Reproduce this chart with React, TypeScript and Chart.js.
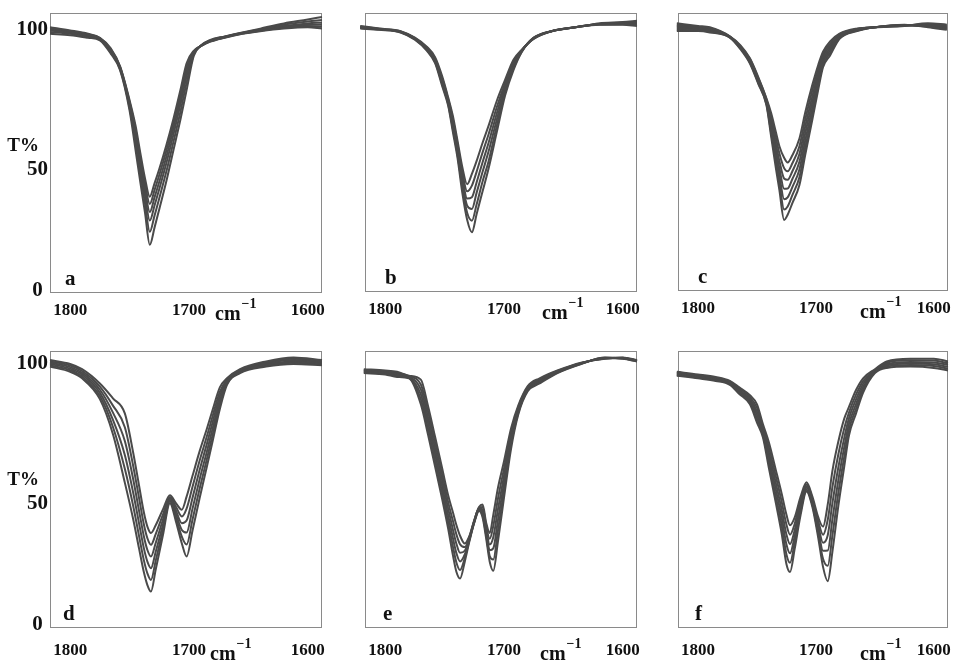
import React, { useEffect, useRef } from "react";
import { Chart, registerables } from "chart.js";

Chart.register(...registerables);

// ---------- tick labels ----------
const xTickValues = [1800, 1700, 1600];
const yTickValues = [0, 50, 100];

// ---------- panel a ----------
const waveA = [1817, 1800, 1785, 1775, 1766, 1758, 1750, 1745, 1741, 1737, 1733, 1729, 1725, 1719, 1713, 1707, 1702, 1696, 1690, 1682, 1670, 1655, 1640, 1620, 1600, 1588];
const a1 = [101, 99.8, 98.5, 97, 93, 86, 73, 63.3, 52.9, 43, 36, 41.1, 46.6, 55.8, 66, 77.3, 87.2, 92, 93.8, 95.5, 97, 98.5, 99.5, 100.5, 101, 100.5];
const a2 = [100.6, 99.5, 98.3, 96.9, 92.7, 85.8, 72.4, 61.9, 51.2, 41, 33.2, 38.5, 44.3, 53.7, 64.2, 75.6, 85.7, 91.7, 93.8, 95.6, 97.1, 98.6, 99.7, 100.8, 101.5, 101.2];
const a3 = [100.2, 99.2, 98, 96.7, 92.4, 85.5, 71.7, 60.3, 49.3, 38.8, 30.1, 35.7, 41.7, 51.4, 62.2, 73.7, 83.9, 91.4, 93.9, 95.7, 97.2, 98.7, 99.8, 101.1, 102, 102];
const a4 = [99.8, 98.9, 97.8, 96.5, 92, 85.3, 71, 58.7, 47.3, 36.4, 26.8, 32.6, 38.9, 48.9, 60, 71.7, 82.1, 91, 93.9, 95.9, 97.3, 98.8, 100, 101.5, 102.5, 102.8];
const a5 = [99.2, 98.5, 97.4, 96.3, 91.5, 84.9, 70.1, 56.5, 44.7, 33.4, 22.5, 28.7, 35.4, 45.7, 57.2, 69, 79.7, 90.5, 93.9, 96, 97.4, 98.9, 100.2, 102, 103.2, 103.8];
const a6 = [98.5, 98, 97, 96, 91, 84.5, 69, 54, 41.7, 29.8, 17.5, 24.1, 31.2, 42, 54, 66, 76.9, 90, 94, 96.2, 97.5, 99, 100.5, 102.5, 104, 105];

// ---------- panel b ----------
const waveB = [1821, 1805, 1787, 1775, 1765, 1758, 1752, 1747, 1743, 1739, 1735, 1731, 1727, 1723, 1718, 1713, 1706, 1699, 1692, 1685, 1675, 1660, 1640, 1620, 1600, 1588];
const b1 = [101.5, 100.5, 99.5, 97, 93.5, 89.5, 82.1, 74, 66.8, 57, 47, 40.5, 44.5, 49.5, 56.5, 63, 72.7, 80.8, 88.5, 92.4, 96.5, 99.5, 101, 102, 102, 101.5];
const b2 = [101.3, 100.4, 99.4, 96.8, 93.2, 89, 81.3, 73.4, 65.6, 55.7, 45, 37.8, 40, 45.4, 52.8, 59.7, 70.3, 79.6, 87.7, 92.2, 96.6, 99.5, 101, 102.1, 102.2, 101.9];
const b3 = [101.1, 100.3, 99.3, 96.7, 92.9, 88.6, 80.6, 72.7, 64.3, 54.3, 43, 35, 35.5, 41.3, 49, 56.4, 67.9, 78.4, 86.9, 92, 96.7, 99.5, 101, 102.2, 102.4, 102.3];
const b4 = [100.9, 100.2, 99.2, 96.5, 92.6, 88.1, 79.8, 72.1, 63.1, 53, 41, 32.3, 31, 37.3, 45.3, 53.1, 65.5, 77.2, 86.1, 91.9, 96.8, 99.5, 101, 102.3, 102.6, 102.7];
const b5 = [100.7, 100.1, 99.1, 96.4, 92.3, 87.7, 79.1, 71.4, 61.8, 51.6, 39, 29.5, 26.5, 32.8, 41.6, 49.3, 63.1, 76, 85.3, 91.7, 96.9, 99.5, 101, 102.4, 102.8, 103.1];
const b6 = [100.5, 100, 99, 96.2, 92, 87.2, 78.3, 70.8, 60.6, 50.3, 37, 26.8, 22, 29.1, 37.8, 46.5, 60.7, 74.8, 84.5, 91.5, 97, 99.5, 101, 102.5, 103, 103.5];

// ---------- panel c ----------
const waveC = [1818, 1800, 1790, 1773, 1764, 1756, 1749, 1742, 1738, 1734, 1731, 1727, 1724, 1720, 1714, 1709, 1703, 1698, 1694, 1688, 1680, 1665, 1650, 1625, 1605, 1589];
const c1 = [102.5, 101.5, 101, 97.5, 94, 89, 81.8, 73.5, 67.8, 60.5, 55, 50.5, 48.7, 51.5, 58, 68.2, 78.8, 86.5, 91.5, 95.5, 98.5, 100.5, 101, 101.5, 102.5, 102];
const c2 = [102, 101.2, 100.7, 97.4, 93.7, 88.7, 81.4, 73.1, 66.3, 58.2, 52.2, 46.5, 45.3, 48.4, 55, 65.5, 76.6, 84.9, 90.5, 94.6, 98.2, 100.3, 101, 101.6, 102.2, 101.7];
const c3 = [101.5, 100.8, 100.3, 97.3, 93.5, 88.3, 80.9, 72.6, 64.8, 55.8, 49.3, 42.5, 42, 45.3, 52, 62.8, 74.3, 83.3, 89.5, 93.7, 97.8, 100.2, 101, 101.7, 102, 101.3];
const c4 = [101, 100.5, 100, 97.3, 93.3, 88, 80.5, 72.2, 63.3, 53.5, 46.5, 38.5, 38.6, 42.3, 49, 60.1, 72.1, 81.8, 88.5, 92.8, 97.5, 100, 101, 101.8, 101.8, 101];
const c5 = [100.5, 100.2, 99.7, 97.2, 93, 87.7, 80.1, 71.8, 61.7, 51.2, 43.7, 34.5, 35.2, 39.2, 46, 57.3, 69.9, 80.2, 87.5, 91.9, 97.2, 99.8, 101, 101.8, 101.5, 100.7];
const c6 = [100, 99.8, 99.3, 97.1, 92.8, 87.3, 79.6, 71.3, 60.2, 48.8, 40.8, 30.5, 31.7, 36.1, 43, 54.6, 67.6, 78.6, 86.5, 91, 96.8, 99.7, 101, 101.9, 101.2, 100.3];
const c7 = [99.5, 99.5, 99, 97, 92.5, 87, 79.2, 70.9, 58.7, 46.5, 38, 26.5, 28.5, 33, 40, 51.9, 65.4, 77, 85.5, 90.1, 96.5, 99.5, 101, 102, 101, 100];

// ---------- panel d ----------
const waveD = [1817, 1800, 1790, 1775, 1764, 1754, 1747, 1742, 1738, 1735, 1732, 1728, 1722, 1716, 1711, 1706, 1702, 1697, 1691, 1685, 1680, 1674, 1668, 1657, 1635, 1612, 1588];
const d1 = [101.5, 100, 98, 92.5, 86.8, 81, 66, 53.2, 43, 37.5, 35, 38, 44, 49.5, 46.5, 44, 49, 57, 66.5, 75, 82.5, 91, 94.5, 98, 101, 102.5, 101.5];
const d2 = [101, 99.4, 97.3, 91.3, 84, 75.7, 60.9, 48.4, 38.4, 33, 30.5, 34.6, 42, 48.9, 45.1, 41.4, 44.4, 52.8, 62.9, 72.1, 80.1, 89.3, 94, 97.7, 100.6, 102, 101.1];
const d3 = [100.5, 98.8, 96.6, 90.1, 81.3, 70.4, 55.8, 43.5, 33.8, 28.5, 26, 31.2, 40, 48.3, 43.7, 38.8, 39.8, 48.6, 59.3, 69.2, 77.7, 87.7, 93.5, 97.4, 100.2, 101.5, 100.7];
const d4 = [100, 98.2, 95.9, 88.9, 78.5, 65, 50.6, 38.7, 29.2, 24, 21.5, 27.8, 38, 47.7, 42.3, 36.2, 35.2, 44.4, 55.7, 66.2, 75.3, 86, 93, 97.1, 99.8, 101, 100.3];
const d5 = [99.5, 97.6, 95.2, 87.7, 75.8, 59.7, 45.5, 33.8, 24.6, 19.5, 17, 24.4, 36, 47.1, 40.9, 33.6, 30.6, 40.2, 52.1, 63.3, 72.9, 84.4, 92.5, 96.8, 99.4, 100.5, 99.9];
const d6 = [99, 97, 94.5, 86.5, 73, 54.4, 40.4, 29, 20, 15, 12.5, 21, 34, 46.5, 39.5, 31, 26, 36, 48.5, 60.4, 70.5, 82.7, 92, 96.5, 99, 100, 99.5];

// ---------- panel e ----------
const waveE = [1818, 1800, 1790, 1780, 1770, 1764, 1758, 1752, 1747, 1743, 1740, 1737, 1733, 1729, 1725, 1721, 1718, 1715, 1712, 1709, 1705, 1700, 1694, 1688, 1680, 1670, 1655, 1635, 1615, 1600, 1588];
const e1 = [98, 97.5, 97, 95.5, 94, 84, 72, 59.8, 49.5, 43, 38, 34, 31, 34, 40, 45, 46, 39, 35, 42, 52.5, 62.5, 75.3, 84, 91.5, 94.5, 97.5, 100.5, 102, 102.5, 101.5];
const e2 = [97.7, 97.2, 96.6, 95.3, 92.1, 81.8, 69.7, 57.4, 46.9, 39.7, 34.4, 30.7, 29.6, 33.6, 39.8, 44.7, 45, 37.8, 32.8, 37.7, 48.4, 59.7, 73.7, 83.3, 91.1, 94.1, 97.3, 100.4, 102.1, 102.4, 101.4];
const e3 = [97.4, 96.9, 96.2, 95.1, 90.2, 79.6, 67.4, 55.1, 44.4, 36.4, 30.8, 27.4, 28.2, 33.2, 39.6, 44.4, 44, 36.6, 30.6, 33.4, 44.3, 56.9, 72.2, 82.6, 90.7, 93.7, 97.1, 100.3, 102.2, 102.3, 101.3];
const e4 = [97.1, 96.6, 95.8, 94.9, 88.3, 77.4, 65.2, 52.7, 41.8, 33.1, 27.2, 24.1, 26.8, 32.8, 39.4, 44.1, 43, 35.4, 28.4, 29.1, 40.2, 54.1, 70.6, 81.9, 90.3, 93.3, 96.9, 100.2, 102.3, 102.2, 101.2];
const e5 = [96.8, 96.3, 95.4, 94.7, 86.4, 75.2, 62.9, 50.4, 39.3, 29.8, 23.6, 20.8, 25.4, 32.4, 39.2, 43.8, 42, 34.2, 26.2, 24.8, 36.1, 51.3, 69.1, 81.2, 89.9, 92.9, 96.7, 100.1, 102.4, 102.1, 101.1];
const e6 = [96.5, 96, 95, 94.5, 84.5, 73, 60.6, 48, 36.7, 26.5, 20, 17.5, 24, 32, 39, 43.5, 41, 33, 24, 20.5, 32, 48.5, 67.5, 80.5, 89.5, 92.5, 96.5, 100, 102.5, 102, 101];

// ---------- panel f ----------
const waveF = [1818, 1800, 1785, 1773, 1765, 1756, 1750, 1745, 1740, 1734, 1729, 1725, 1722, 1718, 1713, 1708, 1703, 1698, 1694, 1690, 1686, 1681, 1676, 1672, 1666, 1660, 1650, 1640, 1620, 1600, 1588];
const f1 = [97, 96, 95, 93.5, 91, 88, 84.5, 76.9, 70, 59.2, 50, 42, 38, 41, 49, 54.5, 49, 41, 37.5, 46, 59, 70.2, 79, 83.5, 90, 94.5, 98, 101, 102, 102, 101];
const f2 = [96.7, 95.7, 94.7, 93.2, 90.5, 87.3, 83.1, 75.9, 68, 56.7, 46.9, 38.2, 34.4, 38.6, 47.6, 53.8, 48.2, 39.4, 34.4, 40.1, 52.8, 65.3, 75.3, 81.3, 88.2, 93.4, 97.7, 100.5, 101.4, 101.3, 100.3];
const f3 = [96.4, 95.4, 94.4, 92.9, 90, 86.6, 81.7, 74.9, 66.1, 54.1, 43.8, 34.4, 30.8, 36.2, 46.2, 53.1, 47.4, 37.8, 31.3, 34.2, 46.6, 60.3, 71.6, 79.1, 86.4, 92.3, 97.4, 100, 100.8, 100.6, 99.6];
const f4 = [96.1, 95.1, 94.1, 92.6, 89.5, 85.9, 80.3, 73.8, 64.1, 51.6, 40.8, 30.6, 27.2, 33.8, 44.8, 52.4, 46.6, 36.2, 28.2, 28.3, 40.4, 55.4, 68, 76.9, 84.6, 91.2, 97.1, 99.5, 100.2, 99.9, 98.9];
const f5 = [95.8, 94.8, 93.8, 92.3, 89, 85.2, 78.9, 72.8, 62.2, 49, 37.7, 26.8, 23.6, 31.4, 43.4, 51.7, 45.8, 34.6, 25.1, 22.4, 34.2, 50.5, 64.3, 74.7, 82.8, 90.1, 96.8, 99, 99.6, 99.2, 98.2];
const f6 = [95.5, 94.5, 93.5, 92, 88.5, 84.5, 77.5, 71.8, 60.2, 46.5, 34.6, 23, 20, 29, 42, 51, 45, 33, 22, 16.5, 28, 45.5, 60.6, 72.5, 81, 89, 96.5, 98.5, 99, 98.5, 97.5];

// ---------- layout (positions / styles, not data) ----------
const FONT = '"Liberation Serif", "Times New Roman", serif';
const LINE_COLOR = "#4a4a4a";
const PAD_L = 50;
const PAD_T = 22;
const PAD_R = 20;
const AXIS_H = 40;

const rows = [
  { yMin: -1, yMax: 106.5, xPad: 7, cmDy: 27 },
  { yMin: -1.5, yMax: 105, xPad: 12, cmDy: 32 },
];

const panels = [
  { letter: "a", wave: waveA, series: [a1, a2, a3, a4, a5, a6], left: 50, top: 13, w: 272, h: 280, row: 0, col: 0, cmDx: 165, letterDx: 15 },
  { letter: "b", wave: waveB, series: [b1, b2, b3, b4, b5, b6], left: 365, top: 13, w: 272, h: 279, row: 0, col: 1, cmDx: 177, letterDx: 20 },
  { letter: "c", wave: waveC, series: [c1, c2, c3, c4, c5, c6, c7], left: 678, top: 13, w: 270, h: 278, row: 0, col: 2, cmDx: 182, letterDx: 20 },
  { letter: "d", wave: waveD, series: [d1, d2, d3, d4, d5, d6], left: 50, top: 351, w: 272, h: 277, row: 1, col: 0, cmDx: 160, letterDx: 13 },
  { letter: "e", wave: waveE, series: [e1, e2, e3, e4, e5, e6], left: 365, top: 351, w: 272, h: 277, row: 1, col: 1, cmDx: 175, letterDx: 18 },
  { letter: "f", wave: waveF, series: [f1, f2, f3, f4, f5, f6], left: 678, top: 351, w: 270, h: 277, row: 1, col: 2, cmDx: 182, letterDx: 17 },
];

type PanelCfg = (typeof panels)[number];

function Panel({ cfg }: { cfg: PanelCfg }) {
  const ref = useRef<HTMLCanvasElement>(null);
  const W = cfg.w + PAD_L + PAD_R;
  const H = cfg.h + PAD_T + AXIS_H;
  const row = rows[cfg.row];

  useEffect(() => {
    const canvas = ref.current;
    if (!canvas) return;

    const decor = {
      id: "decor",
      beforeDatasetsDraw(chart: any) {
        const { ctx, chartArea: ca } = chart;
        ctx.save();
        ctx.strokeStyle = "#8a8a8a";
        ctx.lineWidth = 1;
        ctx.strokeRect(Math.round(ca.left) + 0.5, Math.round(ca.top) + 0.5, Math.round(ca.width) - 1, Math.round(ca.height) - 1);
        ctx.restore();
      },
      afterDraw(chart: any) {
        const { ctx, chartArea: ca } = chart;
        ctx.save();
        ctx.fillStyle = "#111";
        ctx.textBaseline = "alphabetic";
        ctx.textAlign = "left";
        ctx.font = `bold 21px ${FONT}`;
        ctx.fillText(cfg.letter, ca.left + cfg.letterDx, ca.bottom - 8);
        const x = ca.left + cfg.cmDx;
        const y = ca.bottom + row.cmDy;
        ctx.font = `bold 20px ${FONT}`;
        ctx.fillText("cm", x, y);
        const w = ctx.measureText("cm").width;
        ctx.font = `bold 14px ${FONT}`;
        ctx.fillText("\u22121", x + w + 1, y - 12);
        if (cfg.col === 0) {
          const y50 = chart.scales.y.getPixelForValue(50);
          ctx.font = `bold 19px ${FONT}`;
          ctx.textAlign = "right";
          ctx.fillText("T%", ca.left - 11, y50 - 9);
        }
        ctx.restore();
      },
    };

    const datasets = cfg.series.map((s, i) => ({
      label: `${cfg.letter}${i + 1}`,
      data: cfg.wave.map((v, j) => ({ x: v, y: s[j] })),
      borderColor: LINE_COLOR,
      borderWidth: 2,
      pointRadius: 0,
      fill: false,
      cubicInterpolationMode: "monotone" as const,
      clip: false as const,
    }));

    const chart = new Chart(canvas, {
      type: "line",
      data: { datasets },
      options: {
        animation: false,
        responsive: false,
        devicePixelRatio: 1,
        events: [],
        layout: { padding: { top: PAD_T, right: PAD_R, left: 0, bottom: 0 } },
        plugins: { legend: { display: false }, tooltip: { enabled: false } },
        scales: {
          x: {
            type: "linear",
            min: 1588,
            max: 1817,
            reverse: true,
            grid: { display: false, drawTicks: false },
            border: { display: false },
            afterBuildTicks: (scale: any) => {
              scale.ticks = xTickValues.map((v) => ({ value: v }));
            },
            afterFit: (scale: any) => {
              scale.height = AXIS_H;
            },
            ticks: {
              autoSkip: false,
              maxRotation: 0,
              padding: row.xPad,
              color: "#111",
              font: { family: FONT, size: 17, weight: "bold" },
              callback: (v: any) => String(v),
            },
          },
          y: {
            type: "linear",
            min: row.yMin,
            max: row.yMax,
            grid: { display: false, drawTicks: false },
            border: { display: false },
            afterBuildTicks: (scale: any) => {
              scale.ticks = yTickValues.map((v) => ({ value: v }));
            },
            afterFit: (scale: any) => {
              scale.width = PAD_L;
            },
            ticks: {
              display: cfg.col === 0,
              padding: 2,
              color: "#111",
              font: { family: FONT, size: 21, weight: "bold", lineHeight: 0.86 },
              callback: (v: any) => (v === 50 ? ["", "50"] : v === 0 ? "0 " : String(v)),
            },
          },
        },
      },
      plugins: [decor],
    } as any);

    return () => chart.destroy();
  }, []);

  return (
    <canvas
      ref={ref}
      width={W}
      height={H}
      style={{ position: "absolute", left: cfg.left - PAD_L, top: cfg.top - PAD_T, width: W, height: H }}
    />
  );
}

export default function App() {
  return (
    <div
      style={{
        position: "absolute",
        left: 0,
        top: 0,
        width: 965,
        height: 660,
        overflow: "hidden",
        background: "#fff",
      }}
    >
      {panels.map((p) => (
        <Panel key={p.letter} cfg={p} />
      ))}
    </div>
  );
}
